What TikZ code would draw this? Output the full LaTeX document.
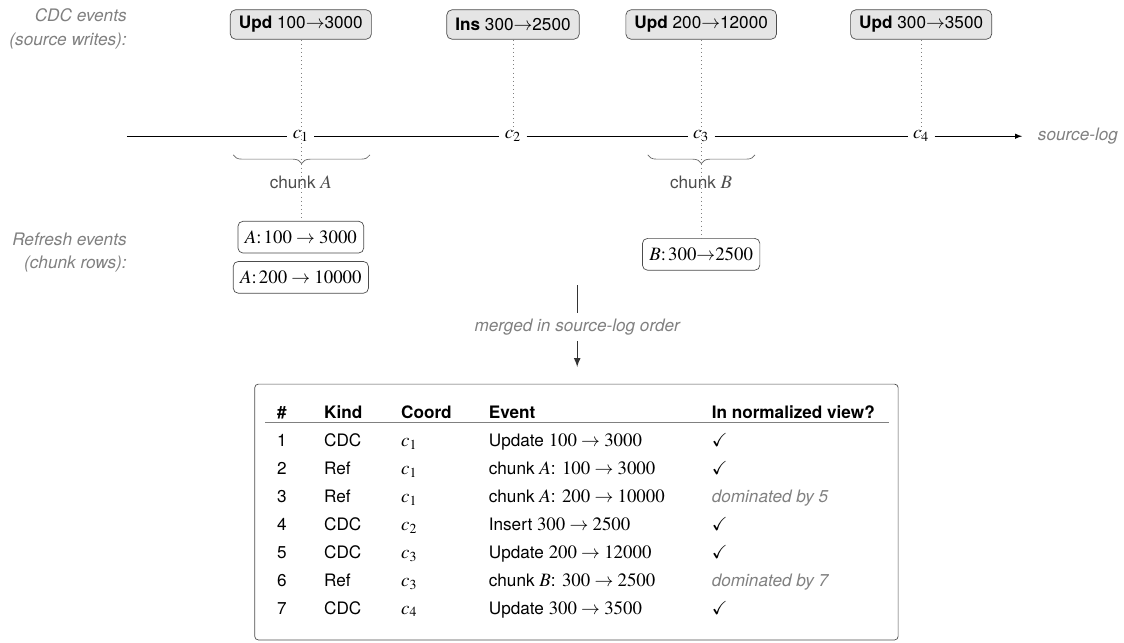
\documentclass[11pt,tikz,border=0pt]{standalone}
\usepackage{amsmath}
\usepackage{mathptmx}
\usepackage{amssymb}
\usepackage[no-math]{fontspec}
\setmainfont{TeX Gyre Heros}[Scale=0.91]
\usepackage{tikz}
\usetikzlibrary{decorations.pathreplacing,arrows}

\newcommand\inview{$\checkmark$}
\newcommand\domby[1]{\textcolor{gray}{\itshape dominated by #1}}

\begin{document}
\begin{tikzpicture}[>=latex, thin,
  cdc/.style={rectangle, draw=black!70, fill=gray!20, rounded corners=3pt, inner xsep=5pt, minimum height=0.6cm},
  refresh/.style={rectangle, draw=black!70, fill=white, rounded corners=3pt, inner xsep=4pt, minimum height=0.65cm},
  side/.style={align=right, anchor=east, text=gray, font={\itshape\fontsize{11}{13.5}\selectfont}},
  tick/.style={inner sep=3pt},
  chunk/.style={text=black!70},
  link/.style={dotted, gray},
  brace/.style={decorate, decoration={brace, mirror, amplitude=5pt}, black!60},
  cell/.style={anchor=base west, inner sep=0pt},
  head/.style={cell, font=\bfseries}]
  \useasboundingbox (0,0) rectangle (22.94,-13.12);
  % side labels
  \node[side] (cdclbl) at (2.71,-0.59) {CDC events\\(source writes):};
  \node[side] (reflbl) at (2.71,-5.16) {Refresh events\\(chunk rows):};
  % source-log
  \coordinate (tlstart) at (2.59,-2.78);
  \node[tick] (c1) at (6.14,-2.78) {$c_1$};
  \node[tick] (c2) at (10.47,-2.78) {$c_2$};
  \node[tick] (c3) at (14.31,-2.78) {$c_3$};
  \node[tick] (c4) at (18.80,-2.78) {$c_4$};
  \coordinate (tlend) at (20.86,-2.78);
  \node[anchor=west, text=gray, font=\itshape] (srclog) at (21.06,-2.78) {source-log};
  \draw (tlstart) -- (c1) -- (c2) -- (c3) -- (c4);
  \draw[->] (c4) -- (tlend);
  % CDC events
  \node[cdc] (u1) at (6.14,-0.50) {\textbf{Upd} 100$\to$3000};
  \node[cdc] (i2) at (10.47,-0.50) {\textbf{Ins} 300$\to$2500};
  \node[cdc] (u3) at (14.31,-0.50) {\textbf{Upd} 200$\to$12000};
  \node[cdc] (u4) at (18.80,-0.50) {\textbf{Upd} 300$\to$3500};
  % chunks
  \draw[brace] (4.76,-3.16) -- (7.55,-3.16);
  \node[chunk] (chA) at (6.14,-3.73) {chunk $A$};
  \draw[brace] (13.22,-3.16) -- (15.41,-3.16);
  \node[chunk] (chB) at (14.31,-3.73) {chunk $B$};
  % refresh events
  \node[refresh] (ra1) at (6.14,-4.84) {$A{:}\,100 \to 3000$};
  \node[refresh] (ra2) at (6.14,-5.66) {$A{:}\,200 \to 10000$};
  \node[refresh] (rb) at (14.31,-5.19) {$B{:}\,300{\to}2500$};
  \draw[link] (u1) -- (ra1);
  \draw[link] (i2) -- (c2.center);
  \draw[link] (u3) -- (rb);
  \draw[link] (u4) -- (c4.center);
  % merge
  \coordinate (mtop) at (11.78,-5.82);
  \node[text=gray, font=\itshape] (merge) at (11.78,-6.67) {merged in source-log order};
  \coordinate (mbot) at (11.78,-7.49);
  \draw[->, thick, black!80] (mtop) -- (merge) -- (mbot);
  % table
  \node[draw=black!70, rounded corners=2pt, minimum width=13.13cm, minimum height=5.22cm] (tbl) at (11.765,-10.45) {};
  \foreach \x/\t [count=\j] in {5.65/\#, 6.61/Kind, 8.18/Coord, 9.97/Event, 14.52/In normalized view?}
    \node[head] (h\j) at (\x,-8.55) {\t};
  \draw[gray] (5.41,-8.61) -- (18.14,-8.61);
  \foreach \num/\kind/\crd/\evt/\view [count=\r from 0] in {
      1/CDC/c_1/Update $100 \to 3000$/\inview,
      2/Ref/c_1/chunk $A$: $100 \to 3000$/\inview,
      3/Ref/c_1/chunk $A$: $200 \to 10000$/\domby{5},
      4/CDC/c_2/Insert $300 \to 2500$/\inview,
      5/CDC/c_3/Update $200 \to 12000$/\inview,
      6/Ref/c_3/chunk $B$: $300 \to 2500$/\domby{7},
      7/CDC/c_4/Update $300 \to 3500$/\inview}
  {
    \node[cell] (n\num) at (5.65,{-9.12-0.569*\r}) {\num};
    \node[cell] (k\num) at (6.61,{-9.12-0.569*\r}) {\kind};
    \node[cell] (o\num) at (8.18,{-9.12-0.569*\r}) {$\crd$};
    \node[cell] (e\num) at (9.97,{-9.12-0.569*\r}) {\evt};
    \node[cell] (v\num) at (14.52,{-9.12-0.569*\r}) {\view};
  }
\end{tikzpicture}
\end{document}
